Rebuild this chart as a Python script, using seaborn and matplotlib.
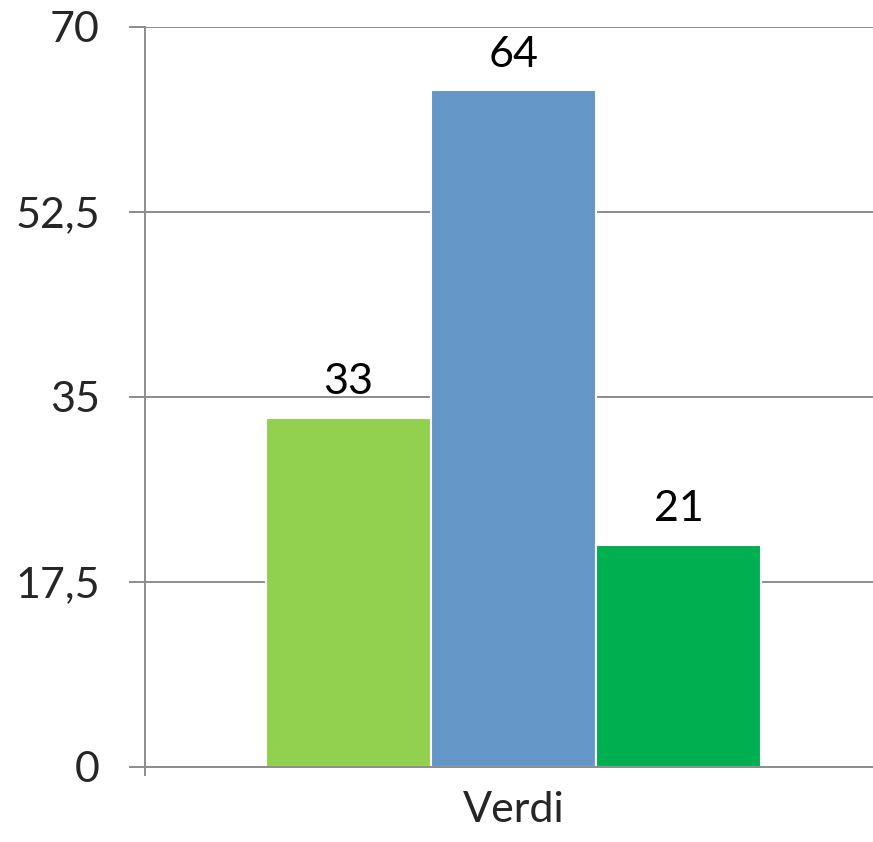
import pandas as pd
import matplotlib
matplotlib.use("Agg")
import matplotlib.pyplot as plt
import seaborn as sns

# chart values
categories = ["Verdi"]
series = ["Serie 1", "Serie 2", "Serie 3"]
values = [33, 64, 21]
colors = ["#92D050", "#6596C8", "#00B050"]
y_ticks = [0, 17.5, 35, 52.5, 70]
y_tick_labels = ["0", "17,5", "35", "52,5", "70"]

df = pd.DataFrame({
    "category": categories * len(series),
    "series": series,
    "value": values,
})

sns.set_style("white")
plt.rcParams["font.family"] = ["Lato", "DejaVu Sans"]

grid_color = "#8C8C8C"
fig = plt.figure(figsize=(8.73, 8.42), dpi=100)
ax = fig.add_axes([145 / 873, 1 - 767 / 842, 1 - 145 / 873, (767 - 27) / 842])

sns.barplot(data=df, x="category", y="value", hue="series", palette=colors,
            width=0.68, edgecolor="white", linewidth=1.5, legend=False,
            saturation=1, ax=ax)

for cont in ax.containers:
    ax.bar_label(cont, labels=[f"{v:g}" for v in cont.datavalues],
                 padding=12, fontsize=31, color="black")

ax.set_ylim(0, 70)
ax.set_xlim(-0.506, 0.494)
ax.set_yticks(y_ticks, labels=y_tick_labels)
ax.tick_params(axis="y", length=11.5, width=1.4, color=grid_color,
               pad=21, labelsize=31, left=True)
ax.set_xticks([-0.506], labels=[""])
ax.tick_params(axis="x", which="major", length=6.5, width=1.4,
               color=grid_color, bottom=True)
ax.set_xticks([0], labels=categories, minor=True)
ax.tick_params(axis="x", which="minor", length=0, pad=17, labelsize=31)

ax.set_axisbelow(True)
ax.yaxis.grid(True, color=grid_color, linewidth=1.4)
ax.set_xlabel("")
ax.set_ylabel("")
for side in ["top", "right"]:
    ax.spines[side].set_visible(False)
for side in ["left", "bottom"]:
    ax.spines[side].set_color(grid_color)
    ax.spines[side].set_linewidth(1.4)

fig.savefig("out.png", dpi=100)
